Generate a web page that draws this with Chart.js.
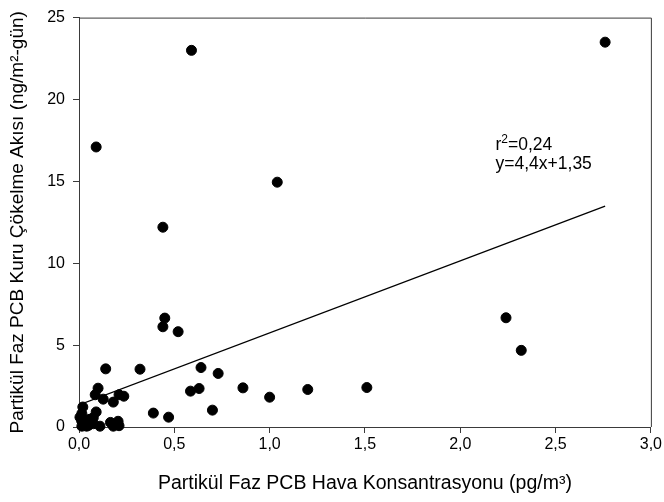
<!DOCTYPE html>
<html>
<head>
<meta charset="utf-8">
<script src="https://cdn.jsdelivr.net/npm/chart.js@4/dist/chart.umd.min.js"></script>
<style>
  html, body { margin: 0; padding: 0; background: #fff; }
  #wrap { width: 664px; height: 502px; }
</style>
</head>
<body>
<div id="wrap"><canvas id="chart" width="664" height="502"></canvas></div>
<script>
// air concentration (pg/m3) vs dry deposition flux (ng/m2-day)
const airConc = [
  2.76, 0.59, 0.09, 1.04, 0.44, 2.24, 2.32, 0.45, 0.44, 0.52,
  0.32, 0.14, 0.64, 0.73, 0.63, 0.585, 0.86, 1.00, 1.20, 1.51,
  0.70, 0.39, 0.47,
  0.10, 0.085, 0.127, 0.18, 0.21, 0.235, 0.02, 0.09, 0.015, 0.055,
  0.075, 0.014, 0.015, 0.04, 0.075, 0.11, 0.165, 0.205, 0.21, 0.18,
  0.03, 0.05, 0.005
]
const depFlux = [
  23.5, 23.0, 17.1, 14.95, 12.2, 6.67, 4.68, 6.65, 6.12, 5.82,
  3.53, 3.55, 3.63, 3.27, 2.35, 2.19, 2.39, 1.82, 2.29, 2.41,
  1.03, 0.85, 0.60,
  2.37, 1.97, 1.70, 1.52, 1.97, 1.88, 1.22, 0.92, 0.82, 0.47,
  0.57, 0.37, 0.05, 0.05, 0.20, 0.05, 0.28, 0.35, 0.08, 0.05,
  0.25, 0.10, 0.60
]

// regression line end points, y = 4,4x + 1,35
const fitX = [0.0, 2.76]
const fitY = [1.35, 13.49]

const xTicks = [0, 0.5, 1.0, 1.5, 2.0, 2.5, 3.0]
const xTickLabels = ['0,0', '0,5', '1,0', '1,5', '2,0', '2,5', '3,0']
const yTicks = [0, 5, 10, 15, 20, 25]
const yTickLabels = ['0', '5', '10', '15', '20', '25']

const fitText = ['r', '2', '=0,24', 'y=4,4x+1,35']

const FONT = "'Liberation Sans', Arial, sans-serif"
const AXIS = '#3a3a3a'

const framePlugin = {
    id: 'frame',
    beforeDatasetsDraw(chart) {
        const a = chart.chartArea
        const c = chart.ctx
        c.save()
        c.strokeStyle = AXIS
        c.lineWidth = 1
        c.beginPath()
        c.moveTo(a.left, a.top + 0.5)
        c.lineTo(a.right + 0.5, a.top + 0.5)
        c.lineTo(a.right + 0.5, a.bottom)
        c.stroke()
        c.restore()
    },
    afterDatasetsDraw(chart) {
        const c = chart.ctx
        const x = chart.scales.x.getPixelForValue(2.185)
        const y1 = chart.scales.y.getPixelForValue(16.9)
        c.save()
        c.fillStyle = '#000'
        c.textBaseline = 'alphabetic'
        c.font = '17.5px ' + FONT
        c.fillText(fitText[0], x, y1)
        const w1 = c.measureText(fitText[0]).width
        c.font = '12px ' + FONT
        c.fillText(fitText[1], x + w1, y1 - 7)
        const w2 = c.measureText(fitText[1]).width
        c.font = '17.5px ' + FONT
        c.fillText(fitText[2], x + w1 + w2, y1)
        c.fillText(fitText[3], x, y1 + 19)
        c.restore()
    }
}

const myChart = new Chart(document.getElementById('chart'), {
    type: 'scatter',
    data: {
        datasets: [{
            data: airConc.map((v, i) => ({ x: v, y: depFlux[i] })),
            backgroundColor: '#000',
            borderColor: '#000',
            pointRadius: 5,
            pointHoverRadius: 5,
            clip: false,
            order: 1
        }, {
            type: 'line',
            data: fitX.map((v, i) => ({ x: v, y: fitY[i] })),
            borderColor: '#000',
            borderWidth: 1.3,
            pointRadius: 0,
            fill: false,
            order: 2
        }]
    },
    options: {
        responsive: false,
        animation: false,
        events: [],
        layout: { padding: { left: 0, right: 11, top: 16, bottom: 0 } },
        plugins: { legend: { display: false }, tooltip: { enabled: false } },
        scales: {
            x: {
                type: 'linear',
                min: 0,
                max: 3,
                afterFit(scale) { scale.height = 75 },
                afterBuildTicks(scale) { scale.ticks = xTicks.map(v => ({ value: v })) },
                ticks: {
                    color: '#000',
                    padding: 2,
                    maxRotation: 0,
                    font: { family: FONT, size: 16 },
                    callback: (v) => xTickLabels[xTicks.indexOf(v)]
                },
                grid: { drawOnChartArea: false, tickLength: 6, color: AXIS, tickColor: AXIS },
                border: { color: AXIS, width: 1 },
                title: {
                    display: true,
                    text: 'Partikül Faz PCB Hava Konsantrasyonu (pg/m³)',
                    color: '#000',
                    font: { family: FONT, size: 19.5 },
                    padding: { top: 0, bottom: 7 }
                }
            },
            y: {
                type: 'linear',
                min: 0,
                max: 25,
                afterFit(scale) { scale.width = 79 },
                afterBuildTicks(scale) { scale.ticks = yTicks.map(v => ({ value: v })) },
                ticks: {
                    color: '#000',
                    padding: 8,
                    font: { family: FONT, size: 16 },
                    callback: (v) => yTickLabels[yTicks.indexOf(v)]
                },
                grid: { drawOnChartArea: false, tickLength: 6, color: AXIS, tickColor: AXIS },
                border: { color: AXIS, width: 1 },
                title: {
                    display: true,
                    text: 'Partikül Faz PCB Kuru Çökelme Akısı (ng/m²-gün)',
                    color: '#000',
                    font: { family: FONT, size: 19 },
                    padding: { top: 6, bottom: 0 }
                }
            }
        }
    },
    plugins: [framePlugin]
})
</script>
</body>
</html>
